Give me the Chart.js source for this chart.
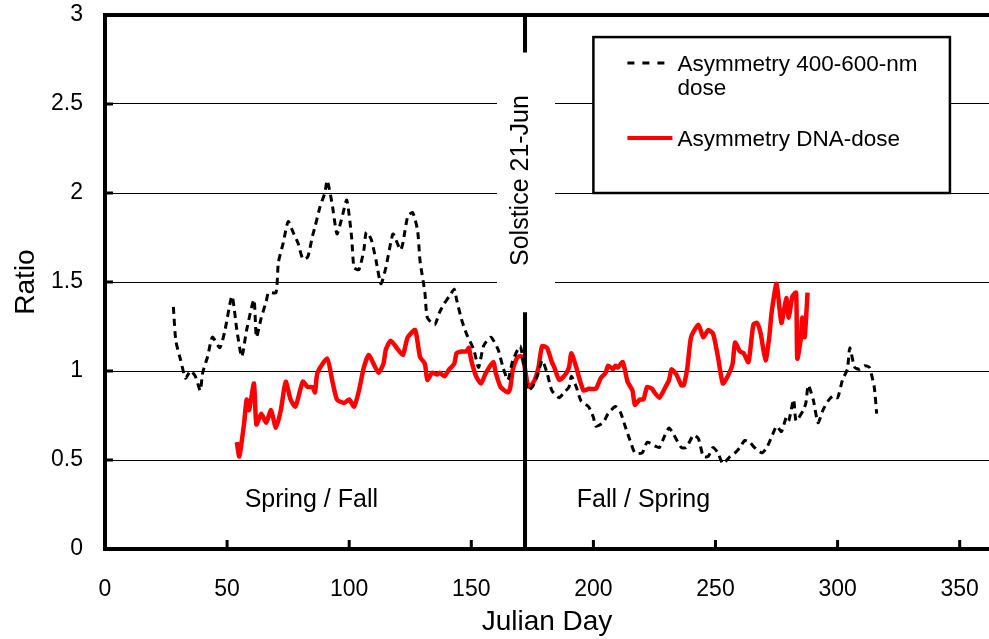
<!DOCTYPE html>
<html>
<head>
<meta charset="utf-8">
<script src="https://cdn.jsdelivr.net/npm/chart.js@4.4.1/dist/chart.umd.min.js"></script>
<style>
    body { margin: 0; background: #fff; }
    #wrap { width: 989px; height: 639px; }
</style>
</head>
<body>
<div id="wrap"><canvas id="asymChart" width="989" height="639"></canvas></div>
<script>
// Asymmetry 400-600-nm dose (dashed black)
const asymDays = [28, 29, 31, 33, 35, 37, 39, 40, 42, 44, 47, 49, 52, 54, 56, 58, 61, 62, 64, 66, 67, 70, 71, 73, 75, 77, 79, 81, 83, 85, 86, 88, 90, 91, 93, 95, 97, 99, 101, 102, 104, 106, 107, 109, 111, 113, 115, 117, 118, 121, 122, 124, 126, 128, 129, 131, 132, 135, 137, 139, 141, 143, 144, 146, 148, 151, 153, 155, 158, 161, 163, 165, 167, 170, 171, 173, 175, 177, 179, 181, 183, 186, 188, 190, 191, 193, 195, 198, 200, 201, 204, 206, 209, 211, 213, 215, 217, 220, 222, 225, 227, 229, 231, 233, 236, 238, 241, 243, 245, 247, 249, 251, 253, 256, 258, 260, 262, 264, 266, 269, 271, 273, 275, 277, 279, 280, 282, 283, 286, 287, 288, 290, 292, 294, 296, 298, 300, 302, 304, 305, 307, 309, 311, 313, 315, 316];
const asymVals = [1.36, 1.17, 1.06, 0.96, 1.00, 0.97, 0.89, 0.99, 1.08, 1.19, 1.13, 1.22, 1.42, 1.23, 1.08, 1.23, 1.40, 1.19, 1.30, 1.39, 1.44, 1.44, 1.61, 1.72, 1.84, 1.78, 1.72, 1.63, 1.64, 1.76, 1.81, 1.92, 2.00, 2.07, 1.94, 1.77, 1.86, 1.96, 1.75, 1.58, 1.57, 1.68, 1.78, 1.74, 1.62, 1.49, 1.58, 1.72, 1.77, 1.68, 1.72, 1.87, 1.89, 1.79, 1.62, 1.44, 1.30, 1.26, 1.33, 1.38, 1.42, 1.46, 1.40, 1.29, 1.21, 1.12, 1.02, 1.14, 1.19, 1.12, 1.02, 0.95, 1.06, 1.14, 1.08, 0.89, 0.91, 0.97, 1.06, 0.99, 0.89, 0.85, 0.88, 0.91, 0.97, 0.91, 0.83, 0.80, 0.74, 0.69, 0.71, 0.76, 0.80, 0.77, 0.69, 0.61, 0.54, 0.54, 0.60, 0.58, 0.57, 0.63, 0.68, 0.64, 0.57, 0.57, 0.64, 0.62, 0.52, 0.52, 0.57, 0.54, 0.48, 0.52, 0.54, 0.57, 0.61, 0.60, 0.57, 0.54, 0.57, 0.63, 0.69, 0.66, 0.74, 0.72, 0.84, 0.72, 0.78, 0.82, 0.92, 0.84, 0.71, 0.78, 0.83, 0.86, 0.85, 0.95, 1.01, 1.13, 1.02, 1.01, 1.03, 1.02, 0.91, 0.76];

// Asymmetry DNA-dose (solid red)
const dnaDays = [54, 55, 57, 58, 59, 61, 62, 64, 66, 68, 70, 72, 74, 76, 78, 81, 83, 85, 86, 87, 91, 93, 95, 98, 100, 102, 104, 106, 108, 110, 112, 114, 115, 117, 120, 122, 123, 124, 127, 129, 131, 132, 134, 136, 137, 139, 141, 143, 144, 146, 148, 149, 150, 152, 154, 156, 159, 160, 162, 165, 166, 167, 169, 171, 173, 174, 176, 177.5, 179, 181, 183, 184, 186, 188.5, 190, 191, 193, 194, 196, 198, 201, 203, 205, 206, 208, 209, 210, 212, 214, 216, 217, 219, 220.5, 222, 224, 225, 227, 229.5, 231, 232, 234, 236, 237, 238.5, 240, 243, 245, 247, 249, 251, 253, 255, 257, 258, 260, 261.5, 263.5, 265.5, 267, 268.5, 270.5, 272, 273, 275, 277, 279, 280, 281.5, 283, 283.5, 285, 285.5, 286.5, 287.7];
const dnaVals = [0.60, 0.52, 0.71, 0.84, 0.78, 0.93, 0.70, 0.76, 0.71, 0.78, 0.68, 0.78, 0.94, 0.84, 0.80, 0.94, 0.91, 0.91, 0.88, 0.99, 1.07, 0.95, 0.84, 0.82, 0.84, 0.80, 0.89, 1.02, 1.09, 1.04, 0.99, 1.04, 1.12, 1.17, 1.12, 1.09, 1.14, 1.19, 1.23, 1.08, 1.04, 0.95, 0.99, 0.98, 0.99, 0.97, 1.01, 1.04, 1.10, 1.11, 1.11, 1.13, 1.06, 0.97, 0.93, 0.99, 1.05, 0.99, 0.91, 0.88, 0.91, 1.01, 1.08, 1.08, 0.93, 0.91, 0.95, 1.02, 1.14, 1.13, 1.05, 1.02, 0.95, 0.98, 1.02, 1.10, 1.02, 0.97, 0.89, 0.90, 0.90, 0.96, 0.99, 1.03, 1.01, 1.03, 1.02, 1.05, 0.94, 0.89, 0.81, 0.84, 0.84, 0.91, 0.90, 0.88, 0.85, 0.91, 0.95, 1.01, 0.98, 0.92, 0.92, 1.02, 1.19, 1.26, 1.19, 1.23, 1.21, 1.08, 0.93, 0.97, 1.04, 1.16, 1.11, 1.10, 1.05, 1.26, 1.27, 1.21, 1.06, 1.19, 1.33, 1.49, 1.27, 1.41, 1.30, 1.42, 1.44, 1.07, 1.19, 1.30, 1.19, 1.44];

const yTicks = [0, 0.5, 1, 1.5, 2, 2.5, 3];
const xTicks = [0, 50, 100, 150, 200, 250, 300, 350];
const legendLines = [['Asymmetry 400-600-nm', 'dose'], ['Asymmetry DNA-dose']];
const solsticeDay = 172;
const solsticeLabel = 'Solstice 21-Jun';
const seasonLabels = ['Spring / Fall', 'Fall / Spring'];
const seasonDays = [84.5, 220.5];
const seasonY = 0.275;

const FONT = "'Liberation Sans', Arial, sans-serif";

function toPoints(xs, ys) {
    return xs.map((x, i) => ({ x: x, y: ys[i] }));
}

// Frame, inward ticks, solstice line, labels and legend box
const decorations = {
    id: 'decorations',
    beforeDatasetsDraw(chart) {
        const ctx = chart.ctx;
        const xs = chart.scales.x, ys = chart.scales.y;
        const sx = xs.getPixelForValue(solsticeDay);
        ctx.save();
        ctx.fillStyle = '#fff';
        // gap for the solstice label
        ctx.fillRect(sx - 28, ys.getPixelForValue(2.79), 58, ys.getPixelForValue(1.33) - ys.getPixelForValue(2.79));
        // legend box
        const lx1 = xs.getPixelForValue(200), lx2 = xs.getPixelForValue(346);
        const ly1 = ys.getPixelForValue(2.876), ly2 = ys.getPixelForValue(2.0);
        ctx.fillRect(lx1, ly1, lx2 - lx1, ly2 - ly1);
        ctx.strokeStyle = '#000';
        ctx.lineWidth = 2.5;
        ctx.strokeRect(lx1, ly1, lx2 - lx1, ly2 - ly1);

        // legend samples
        ctx.lineWidth = 3;
        ctx.setLineDash([7, 8]);
        ctx.beginPath();
        ctx.moveTo(lx1 + 34, ly1 + 26);
        ctx.lineTo(lx1 + 76, ly1 + 26);
        ctx.stroke();
        ctx.setLineDash([]);
        ctx.strokeStyle = '#ff0000';
        ctx.lineWidth = 4;
        ctx.beginPath();
        ctx.moveTo(lx1 + 34, ly1 + 101);
        ctx.lineTo(lx1 + 79, ly1 + 101);
        ctx.stroke();

        ctx.fillStyle = '#000';
        ctx.font = '22.5px ' + FONT;
        ctx.textAlign = 'left';
        ctx.textBaseline = 'middle';
        ctx.fillText(legendLines[0][0], lx1 + 84, ly1 + 28);
        ctx.fillText(legendLines[0][1], lx1 + 84, ly1 + 52);
        ctx.fillText(legendLines[1][0], lx1 + 84, ly1 + 103);
        ctx.restore();
    },
    afterDatasetsDraw(chart) {
        const ctx = chart.ctx;
        const a = chart.chartArea;
        const xs = chart.scales.x, ys = chart.scales.y;
        const sx = xs.getPixelForValue(solsticeDay);
        ctx.save();
        ctx.strokeStyle = '#000';

        // solstice line, broken by its label
        ctx.lineWidth = 4;
        ctx.beginPath();
        ctx.moveTo(sx, a.top);
        ctx.lineTo(sx, ys.getPixelForValue(2.79));
        ctx.moveTo(sx, ys.getPixelForValue(1.33));
        ctx.lineTo(sx, a.bottom);
        ctx.stroke();

        // frame: left, top, bottom
        ctx.beginPath();
        ctx.moveTo(a.left, a.bottom);
        ctx.lineTo(a.left, a.top);
        ctx.lineTo(a.right, a.top);
        ctx.moveTo(a.left - 2, a.bottom);
        ctx.lineTo(a.right, a.bottom);
        ctx.stroke();

        // inward tick marks
        ctx.lineWidth = 3;
        ctx.beginPath();
        yTicks.forEach(v => {
            const py = ys.getPixelForValue(v);
            ctx.moveTo(a.left, py);
            ctx.lineTo(a.left + 8, py);
        });
        xTicks.forEach(v => {
            const px = xs.getPixelForValue(v);
            ctx.moveTo(px, a.bottom);
            ctx.lineTo(px, a.bottom - 9);
        });
        ctx.stroke();

        ctx.fillStyle = '#000';
        ctx.textAlign = 'center';
        ctx.textBaseline = 'middle';
        ctx.font = '25px ' + FONT;
        seasonLabels.forEach((t, i) => {
            ctx.fillText(t, xs.getPixelForValue(seasonDays[i]), ys.getPixelForValue(seasonY));
        });

        ctx.translate(sx - 4, ys.getPixelForValue(2.07));
        ctx.rotate(-Math.PI / 2);
        ctx.fillText(solsticeLabel, 0, 0);
        ctx.restore();
    }
};

const ctx = document.getElementById('asymChart');
new Chart(ctx, {
    type: 'line',
    data: {
        datasets: [
            {
                label: legendLines[0].join(' '),
                data: toPoints(asymDays, asymVals),
                borderColor: '#000',
                borderWidth: 3,
                borderDash: [7, 5],
                pointRadius: 0,
                tension: 0.2,
                fill: false
            },
            {
                label: legendLines[1][0],
                data: toPoints(dnaDays, dnaVals),
                borderColor: '#ff0000',
                borderWidth: 4.5,
                pointRadius: 0,
                tension: 0.2,
                fill: false
            }
        ]
    },
    options: {
        responsive: false,
        animation: false,
        layout: { padding: { left: 0, right: 0, top: 15, bottom: 0 } },
        plugins: {
            legend: { display: false },
            tooltip: { enabled: false }
        },
        scales: {
            x: {
                type: 'linear',
                min: 0,
                max: 362,
                afterFit: function(scale) {
                    scale.height = 90;
                    scale.paddingLeft = 0;
                    scale.paddingRight = 0;
                },
                afterBuildTicks: function(scale) {
                    scale.ticks = xTicks.map(v => ({ value: v }));
                },
                grid: { display: false, drawTicks: false },
                border: { display: false },
                ticks: {
                    padding: 27,
                    color: '#000',
                    font: { family: FONT, size: 23 },
                    maxRotation: 0,
                    callback: v => String(v)
                },
                title: {
                    display: true,
                    text: 'Julian Day',
                    color: '#000',
                    font: { family: FONT, size: 28 },
                    padding: { top: 0, bottom: 0 }
                }
            },
            y: {
                min: 0,
                max: 3,
                afterFit: function(scale) {
                    scale.width = 105;
                    scale.paddingTop = 0;
                    scale.paddingBottom = 0;
                },
                afterBuildTicks: function(scale) {
                    scale.ticks = yTicks.map(v => ({ value: v }));
                },
                grid: { color: '#000', lineWidth: 1, drawTicks: false },
                border: { display: false },
                ticks: {
                    padding: 22,
                    color: '#000',
                    font: { family: FONT, size: 23 },
                    callback: v => String(v)
                },
                title: {
                    display: true,
                    text: 'Ratio',
                    color: '#000',
                    font: { family: FONT, size: 28 },
                    padding: { top: 9, bottom: 0 }
                }
            }
        }
    },
    plugins: [decorations]
});
</script>
</body>
</html>
